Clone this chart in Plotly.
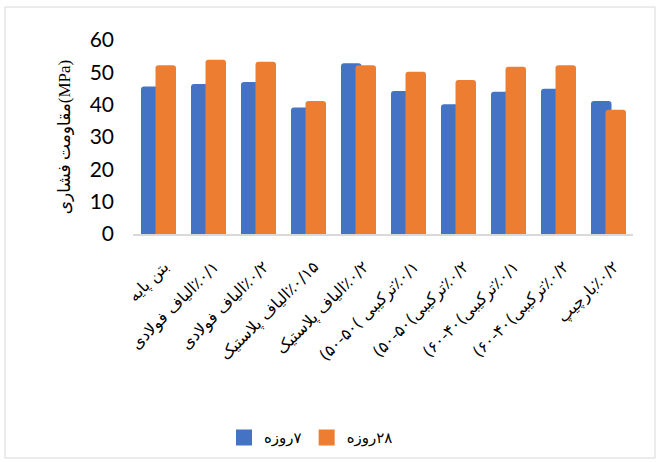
import plotly.graph_objects as go

RLM = "\u200f"

# Mix designs (x axis)
categories = [
    "بتن پایه",
    "٪۰/۱الیاف فولادی",
    "٪۰/۲الیاف فولادی",
    "٪۰/۱۵الیاف پلاستیک",
    "٪۰/۲الیاف پلاستیک",
    "٪۰/۱ترکیبی )۵۰-۵۰)",
    "٪۰/۲ترکیبی)۵۰-۵۰)",
    "٪۰/۱ترکیبی)۴۰-۶۰)",
    "٪۰/۲ترکیبی)۴۰-۶۰)",
    "٪۰/۲بارچیپ",
]

# Compressive strength, MPa
strength_7d = [45.6, 46.4, 47.0, 39.1, 52.8, 44.2, 40.1, 44.0, 44.9, 41.1]
strength_28d = [52.2, 53.9, 53.3, 41.1, 52.2, 50.2, 47.6, 51.7, 52.2, 38.4]

series_names = ["۷روزه", "۲۸روزه"]
y_ticks = [0, 10, 20, 30, 40, 50, 60]
y_title = "مقاومت فشاری(MPa)"

BLUE = "#4472C4"
ORANGE = "#ED7D31"

# RLM marks keep the numbers on the right-hand side of each RTL label
labels = [RLM + c + RLM for c in categories]

fig = go.Figure()
for vals, color, off in [(strength_7d, BLUE, -0.34), (strength_28d, ORANGE, -0.05)]:
    fig.add_trace(go.Bar(
        x=labels, y=vals, width=0.41, offset=off,
        marker=dict(color=color, line=dict(width=0), cornerradius=3),
        showlegend=False, hoverinfo="y",
    ))

# legend entries with larger square swatches
for name, color in zip(series_names, [BLUE, ORANGE]):
    fig.add_trace(go.Scatter(
        x=[None], y=[None], mode="markers", name=RLM + name,
        marker=dict(symbol="square", size=16, color=color),
    ))

fig.update_layout(
    width=659, height=462,
    margin=dict(l=133, r=26, t=40, b=228, autoexpand=False),
    paper_bgcolor="white", plot_bgcolor="white",
    barmode="overlay",
    showlegend=True,
    legend=dict(
        orientation="h", x=0.356, xanchor="center", y=-1.05, yanchor="middle",
        font=dict(family="DejaVu Sans", size=15, color="#000000"),
        itemwidth=30, tracegroupgap=0,
    ),
    xaxis=dict(
        type="category", range=[-0.5, 9.5], automargin=False,
        showline=True, linecolor="#d9d9d9", linewidth=2,
        showgrid=False, ticks="", tickangle=-45,
        tickfont=dict(family="DejaVu Sans", size=16, color="#000000"),
        ticklabelstandoff=15, ticklabelshift=6,
    ),
    yaxis=dict(
        range=[0, 60], tickvals=y_ticks, showgrid=False, zeroline=False,
        showline=False, ticks="", automargin=False,
        tickfont=dict(family="Lato, Open Sans, sans-serif", size=21, color="#000000"),
        ticklabelstandoff=18,
        title=dict(text=y_title, standoff=14,
                   font=dict(family="Liberation Serif, DejaVu Sans", size=17, color="#000000")),
    ),
    shapes=[dict(
        type="rect", xref="paper", yref="paper",
        x0=-0.256, x1=1.044, y0=-1.155, y1=1.170,
        line=dict(color="#d9d9d9", width=1), fillcolor="rgba(0,0,0,0)", layer="below",
    )],
)

fig.write_html("out.html")
